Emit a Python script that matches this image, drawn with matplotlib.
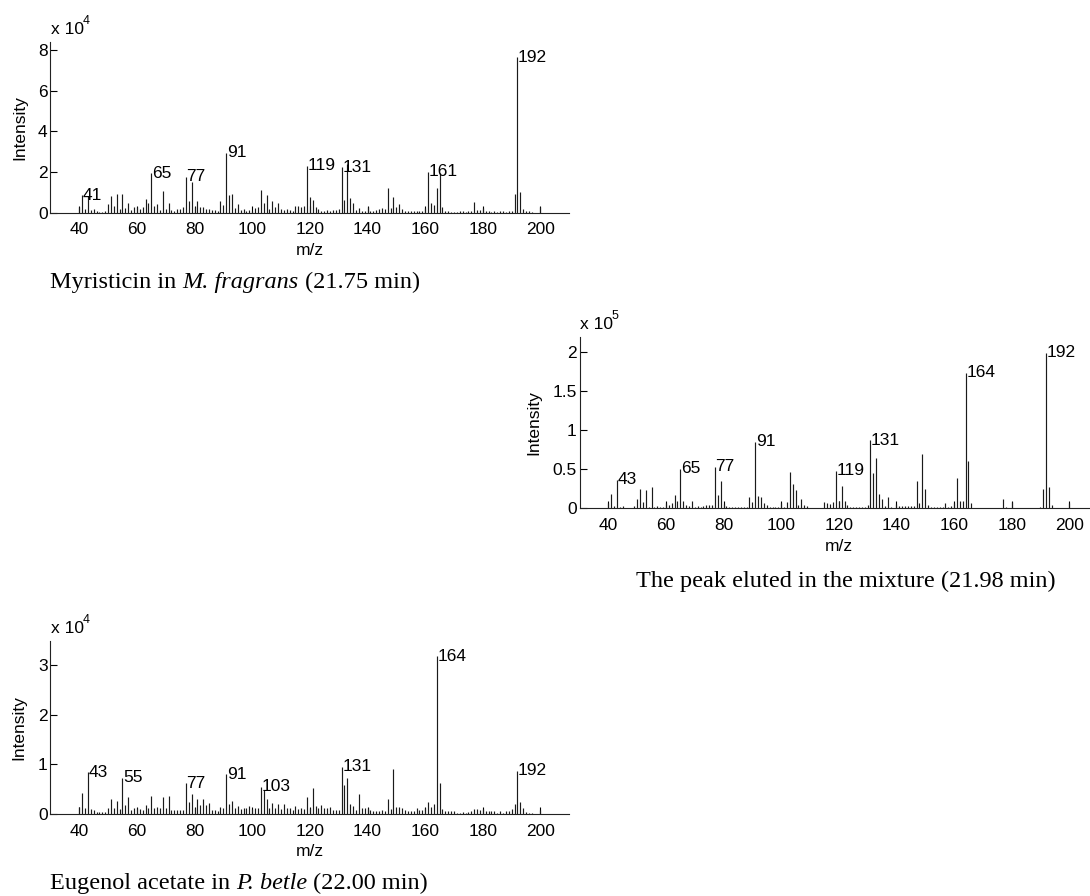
import matplotlib
matplotlib.use("Agg")
import matplotlib.pyplot as plt
import numpy as np

plt.rcParams['font.family'] = ['Liberation Sans', 'DejaVu Sans']

# ---------------- data ----------------
# Panel A: Myristicin in M. fragrans (intensity x 1e4)
mz_a = list(range(40, 198)) + [200]
int_a = [0.27, 0.87, 0.2, 0.8, 0.15, 0.2, 0.1, 0.05, 0.05, 0.1,      # 40-49
         0.43, 0.82, 0.35, 0.92, 0.2, 0.92, 0.25, 0.5, 0.15, 0.3,    # 50-59
         0.3, 0.2, 0.3, 0.66, 0.5, 1.94, 0.35, 0.45, 0.15, 1.07,     # 60-69
         0.2, 0.5, 0.15, 0.1, 0.2, 0.2, 0.3, 1.77, 0.6, 1.53,        # 70-79
         0.3, 0.6, 0.3, 0.3, 0.2, 0.2, 0.15, 0.15, 0.1, 0.6,         # 80-89
         0.4, 2.95, 0.85, 0.9, 0.25, 0.45, 0.15, 0.2, 0.1, 0.15,     # 90-99
         0.1, 0.25, 0.3, 1.1, 0.5, 0.85, 0.2, 0.6, 0.3, 0.5,         # 100-109
         0.2, 0.15, 0.2, 0.15, 0.1, 0.35, 0.35, 0.3, 0.35, 2.32,     # 110-119
         0.75, 0.65, 0.3, 0.2, 0.1, 0.1, 0.15, 0.1, 0.15, 0.15,      # 120-129
         0.2, 2.25, 0.65, 2.4, 0.7, 0.5, 0.15, 0.25, 0.1, 0.1,       # 130-139
         0.3, 0.1, 0.1, 0.15, 0.2, 0.25, 0.2, 1.23, 0.25, 0.75,      # 140-149
         0.3, 0.45, 0.2, 0.1, 0.1, 0.1, 0.1, 0.1, 0.1, 0.1,          # 150-159
         0.25, 2.02, 0.5, 0.4, 1.23, 1.95, 0.3, 0.1, 0.1, 0.05,      # 160-169
         0.05, 0.05, 0.1, 0.1, 0.05, 0.1, 0.1, 0.55, 0.15, 0.15,     # 170-179
         0.25, 0.08, 0.08, 0.05, 0.08, 0.05, 0.08, 0.08, 0.05, 0.08, # 180-189
         0.1, 0.92, 7.66, 1.0, 0.2, 0.1, 0.1, 0.05,                  # 190-197
         0.3]                                                        # 200
labels_a = [41, 65, 77, 91, 119, 131, 161, 192]

# Panel B: peak eluted in the mixture (intensity x 1e5)
mz_b = list(range(40, 198)) + [200]
int_b = [0.07, 0.19, 0.03, 0.37, 0.02, 0.03, 0.01, 0.01, 0.01, 0.03,   # 40-49
         0.12, 0.25, 0.08, 0.23, 0.02, 0.28, 0.02, 0.03, 0.02, 0.02,   # 50-59
         0.07, 0.04, 0.07, 0.17, 0.1, 0.51, 0.1, 0.05, 0.03, 0.09,     # 60-69
         0.02, 0.03, 0.02, 0.03, 0.04, 0.04, 0.05, 0.53, 0.17, 0.35,   # 70-79
         0.06, 0.03, 0.02, 0.02, 0.02, 0.02, 0.02, 0.02, 0.02, 0.15,   # 80-89
         0.08, 0.85, 0.16, 0.15, 0.07, 0.05, 0.02, 0.02, 0.02, 0.02,   # 90-99
         0.07, 0.02, 0.08, 0.47, 0.31, 0.24, 0.05, 0.12, 0.04, 0.03,   # 100-109
         0.01, 0.01, 0.01, 0.01, 0.01, 0.08, 0.07, 0.06, 0.08, 0.48,   # 110-119
         0.1, 0.29, 0.1, 0.04, 0.02, 0.02, 0.02, 0.02, 0.02, 0.02,     # 120-129
         0.04, 0.87, 0.45, 0.64, 0.19, 0.12, 0.03, 0.15, 0.02, 0.01,   # 130-139
         0.06, 0.03, 0.03, 0.03, 0.03, 0.03, 0.03, 0.35, 0.07, 0.70,   # 140-149
         0.25, 0.05, 0.02, 0.02, 0.02, 0.02, 0.02, 0.07, 0.02, 0.03,   # 150-159
         0.07, 0.39, 0.1, 0.1, 1.73, 0.61, 0.07, 0.01, 0.01, 0.01,     # 160-169
         0.01, 0.01, 0.01, 0.01, 0.01, 0.01, 0.01, 0.12, 0.02, 0.01,   # 170-179
         0.08, 0.01, 0.01, 0.01, 0.01, 0.01, 0.01, 0.01, 0.01, 0.01,   # 180-189
         0.02, 0.25, 1.99, 0.27, 0.04, 0.01, 0.01, 0.01,               # 190-197
         0.07]                                                         # 200
labels_b = [43, 65, 77, 91, 119, 131, 164, 192]

# Panel C: Eugenol acetate in P. betle (intensity x 1e4)
mz_c = list(range(40, 198)) + [200]
int_c = [0.14, 0.42, 0.12, 0.84, 0.1, 0.08, 0.05, 0.05, 0.05, 0.05,    # 40-49
         0.13, 0.3, 0.12, 0.26, 0.1, 0.73, 0.18, 0.35, 0.08, 0.12,     # 50-59
         0.12, 0.1, 0.08, 0.18, 0.12, 0.37, 0.13, 0.15, 0.12, 0.35,    # 60-69
         0.12, 0.37, 0.08, 0.08, 0.08, 0.08, 0.08, 0.62, 0.25, 0.4,    # 70-79
         0.12, 0.3, 0.18, 0.3, 0.18, 0.22, 0.08, 0.08, 0.06, 0.15,     # 80-89
         0.12, 0.8, 0.2, 0.27, 0.13, 0.17, 0.1, 0.13, 0.13, 0.17,      # 90-99
         0.1, 0.13, 0.12, 0.55, 0.49, 0.3, 0.12, 0.22, 0.13, 0.2,      # 100-109
         0.1, 0.2, 0.13, 0.12, 0.08, 0.17, 0.1, 0.13, 0.1, 0.35,       # 110-119
         0.12, 0.52, 0.17, 0.12, 0.18, 0.12, 0.12, 0.15, 0.08, 0.08,   # 120-129
         0.08, 0.95, 0.58, 0.72, 0.2, 0.17, 0.08, 0.4, 0.12, 0.13,     # 130-139
         0.12, 0.08, 0.06, 0.06, 0.06, 0.08, 0.06, 0.3, 0.1, 0.9,      # 140-149
         0.15, 0.15, 0.12, 0.08, 0.06, 0.06, 0.06, 0.13, 0.08, 0.08,   # 150-159
         0.12, 0.24, 0.15, 0.2, 3.17, 0.63, 0.1, 0.06, 0.06, 0.06,     # 160-169
         0.06, 0.03, 0.03, 0.05, 0.03, 0.05, 0.06, 0.1, 0.1, 0.08,     # 170-179
         0.1, 0.07, 0.07, 0.06, 0.06, 0.03, 0.06, 0.03, 0.06, 0.06,    # 180-189
         0.1, 0.2, 0.87, 0.25, 0.12, 0.05, 0.02, 0.02,                 # 190-197
         0.08]                                                         # 200
labels_c = [43, 55, 77, 91, 103, 131, 164, 192]

x_ticks = [40, 60, 80, 100, 120, 140, 160, 180, 200]
yticks_a = [0, 2, 4, 6, 8]
yticks_b = [0, 0.5, 1, 1.5, 2]
yticks_c = [0, 1, 2, 3]
exp_a, exp_b, exp_c = '4', '5', '4'

# caption pieces: (text, style)
caption_a = [('Myristicin in', 'normal'), ('M. fragrans', 'italic'), ('(21.75 min)', 'normal')]
caption_b = [('The peak eluted in the mixture (21.98 min)', 'normal')]
caption_c = [('Eugenol acetate in', 'normal'), ('P. betle', 'italic'), ('(22.00 min)', 'normal')]

# ---------------- figure ----------------
W, H = 1090, 896
fig = plt.figure(figsize=(W / 100, H / 100), dpi=100)

def px_axes(left, top, width, height):
    return [left / W, 1 - (top + height) / H, width / W, height / H]

ax_a = fig.add_axes(px_axes(50.4, 41.6, 518.9, 171.1))
ax_b = fig.add_axes(px_axes(579.5, 337.0, 518.6, 171.5))
ax_c = fig.add_axes(px_axes(50.4, 640.6, 518.9, 173.4))

TS = 12.5

def draw(ax, mz, inten, labels, yticks, expo):
    mz = np.asarray(mz)
    inten = np.asarray(inten)
    ax.vlines(mz, 0, inten, color='#1a1a1a', lw=0.85)
    ymax = inten.max() * 1.1
    ax.set_xlim(30, 210)
    ax.set_ylim(0, ymax)
    ax.set_xticks(x_ticks)
    ax.set_yticks(yticks)
    ax.set_yticklabels([('%g' % t) for t in yticks])
    for s in ('top', 'right'):
        ax.spines[s].set_visible(False)
    for s in ('left', 'bottom'):
        ax.spines[s].set_linewidth(0.8)
        ax.spines[s].set_color('#222222')
    ax.tick_params(axis='both', direction='in', length=5, width=0.8,
                   labelsize=TS, colors='black')
    ax.tick_params(axis='x', pad=7)
    ax.tick_params(axis='y', pad=2)
    ax.set_xlabel('m/z', fontsize=TS, labelpad=4)
    ax.set_ylabel('Intensity', fontsize=TS, labelpad=8)
    for m in labels:
        h = inten[list(mz).index(m)]
        ax.text(m + 0.2, h, str(m), fontsize=TS, ha='left', va='center')
    ax.annotate('x 10', xy=(0, 1), xycoords='axes fraction',
                xytext=(0.5, 9), textcoords='offset points',
                ha='left', va='center', fontsize=TS)
    ax.annotate(expo, xy=(0, 1), xycoords='axes fraction',
                xytext=(23, 15), textcoords='offset points',
                ha='left', va='center', fontsize=9)

draw(ax_a, mz_a, int_a, labels_a, yticks_a, exp_a)
draw(ax_b, mz_b, int_b, labels_b, yticks_b, exp_b)
draw(ax_c, mz_c, int_c, labels_c, yticks_c, exp_c)

CS = 17.5
SPACE_PT = 0.25 * CS

def caption(pieces, left_px, baseline_px):
    last = None
    for txt, style in pieces:
        kw = dict(fontsize=CS, family='Liberation Serif', style=style)
        if last is None:
            last = fig.text(left_px / W, 1 - baseline_px / H, txt,
                            ha='left', va='bottom', **kw)
        else:
            last = ax_a.annotate(txt, xy=(1, 0), xycoords=last,
                                 xytext=(SPACE_PT, 0),
                                 textcoords='offset points',
                                 ha='left', va='bottom',
                                 annotation_clip=False, **kw)

caption(caption_a, 50, 293)
caption(caption_b, 636, 592)
caption(caption_c, 50, 894)

fig.savefig('out.png', dpi=100)
